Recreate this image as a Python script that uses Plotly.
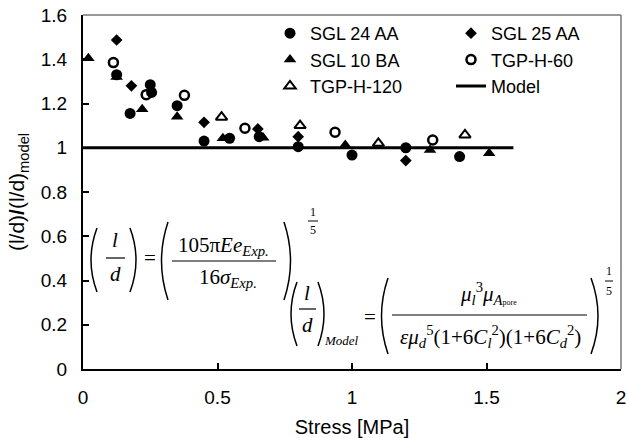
import plotly.graph_objects as go

# ---------------- data ----------------
sgl24_x = [0.125, 0.175, 0.25, 0.255, 0.35, 0.45, 0.545, 0.655, 0.80, 1.00, 1.20, 1.40]
sgl24_y = [1.33, 1.155, 1.285, 1.25, 1.19, 1.03, 1.043, 1.05, 1.005, 0.967, 1.00, 0.96]

sgl25_x = [0.125, 0.18, 0.45, 0.65, 0.80, 1.20]
sgl25_y = [1.487, 1.28, 1.115, 1.085, 1.05, 0.942]

sgl10_x = [0.02, 0.125, 0.22, 0.35, 0.52, 0.67, 0.975, 1.29, 1.51]
sgl10_y = [1.404, 1.32, 1.174, 1.14, 1.043, 1.045, 1.012, 0.99, 0.975]

tgp60_x = [0.113, 0.235, 0.377, 0.602, 0.937, 1.30]
tgp60_y = [1.385, 1.24, 1.237, 1.088, 1.07, 1.035]

tgp120_x = [0.515, 0.807, 1.098, 1.42]
tgp120_y = [1.138, 1.10, 1.02, 1.058]

model_x = [0, 1.6]
model_y = [1, 1]

x_title = "Stress [MPa]"
y_title = "(l/d)<b>/</b>(l/d)<sub>model</sub>"

# ---------------- layout helpers ----------------
W, H = 627, 438
L, R, T, B = 83, 621, 15, 369


def px(x):
    return (x - L) / (R - L)


def py(y):
    return (B - y) / (B - T)


SANS = "Liberation Sans, Arial, sans-serif"
SERIF = "Liberation Serif, Times New Roman, serif"

fig = go.Figure()
fig.add_trace(go.Scatter(x=sgl24_x, y=sgl24_y, mode="markers", name="SGL 24 AA",
                         marker=dict(symbol="circle", size=11, color="black")))
fig.add_trace(go.Scatter(x=sgl25_x, y=sgl25_y, mode="markers", name="SGL 25 AA",
                         marker=dict(symbol="diamond", size=9, color="black")))
fig.add_trace(go.Scatter(x=sgl10_x, y=sgl10_y, mode="markers", name="SGL 10 BA",
                         marker=dict(symbol="triangle-up", size=11, color="black")))
fig.add_trace(go.Scatter(x=tgp60_x, y=tgp60_y, mode="markers", name="TGP-H-60",
                         marker=dict(symbol="circle-open", size=9, color="black",
                                     line=dict(width=2.5, color="black"))))
fig.add_trace(go.Scatter(x=tgp120_x, y=tgp120_y, mode="markers", name="TGP-H-120",
                         marker=dict(symbol="triangle-up-open", size=10, color="black",
                                     line=dict(width=2, color="black"))))
fig.add_trace(go.Scatter(x=model_x, y=model_y, mode="lines", name="Model",
                         line=dict(color="black", width=3)))

shapes = []
# top and right frame (grey)
shapes.append(dict(type="line", xref="paper", yref="paper", x0=0, x1=1, y0=1, y1=1,
                   line=dict(color="#777777", width=1.5)))
shapes.append(dict(type="line", xref="paper", yref="paper", x0=1, x1=1, y0=0, y1=1,
                   line=dict(color="#777777", width=1.5)))


def bar(xa, xb, y, w=1.2):
    shapes.append(dict(type="line", xref="paper", yref="paper", x0=px(xa), x1=px(xb),
                       y0=py(y), y1=py(y), line=dict(color="black", width=w)))


def paren(x_end, x_mid, y1, y2, w=1.5):
    ym = (y1 + y2) / 2
    shapes.append(dict(type="path", xref="paper", yref="paper",
                       path=f"M {px(x_end)},{py(y1)} Q {px(x_mid)},{py(ym)} {px(x_end)},{py(y2)}",
                       line=dict(color="black", width=w)))


annotations = []


def txt(s, x, y, size=21, anchor="center"):
    annotations.append(dict(text=s, x=px(x), y=py(y), xref="paper", yref="paper",
                            showarrow=False, xanchor=anchor, yanchor="middle",
                            font=dict(family=SERIF, size=size, color="black")))


# ---- equation 1 ----
d1 = 8
paren(97, 85, 220 + d1, 284 + d1)
txt("<i>l</i>", 115, 232 + d1)
bar(106, 125, 250 + d1)
txt("<i>d</i>", 115, 266 + d1)
paren(130, 142, 220 + d1, 284 + d1)
txt("=", 150, 250 + d1)
paren(168, 155, 214 + d1, 292 + d1)
txt("105π<i>Ee</i><sub><i>Exp.</i></sub>", 223, 238 + d1)
bar(172, 276, 253 + d1)
txt("16<i>σ</i><sub><i>Exp.</i></sub>", 228, 270 + d1)
paren(284, 297, 214 + d1, 292 + d1)
txt("1", 313, 204 + d1, size=12)
bar(308, 318, 213 + d1, w=1)
txt("5", 313, 222 + d1, size=12)

# ---- equation 2 ----
paren(297, 285, 282, 346)
txt("<i>l</i>", 307, 293)
bar(299, 316, 309)
txt("<i>d</i>", 307, 325)
paren(318, 330, 282, 346)
txt("<i>Model</i>", 322, 340, size=13, anchor="left")
txt("=", 370, 317)
paren(388, 375, 278, 354)
txt("<i>μ</i><sub><i>l</i></sub><sup>3</sup><i>μ</i><sub><i>A</i><span style='font-size:8px'>pore</span></sub>",
    488, 293)
bar(392, 587, 315)
txt("<i>εμ</i><sub><i>d</i></sub><sup>5</sup>(1+6<i>C</i><sub><i>l</i></sub><sup>2</sup>)(1+6<i>C</i><sub><i>d</i></sub><sup>2</sup>)",
    490, 336)
paren(591, 605, 278, 354)
txt("1", 609, 271, size=12)
bar(605, 613, 281, w=1)
txt("5", 609, 291, size=12)

fig.update_layout(
    width=W, height=H,
    margin=dict(l=L, r=W - R, t=T, b=H - B, pad=0, autoexpand=False),
    paper_bgcolor="white", plot_bgcolor="white",
    font=dict(family=SANS, size=19, color="black"),
    showlegend=True,
    legend=dict(orientation="h", entrywidth=136, entrywidthmode="pixels",
                x=px(270), xanchor="left", y=1.0, yanchor="top",
                bgcolor="rgba(0,0,0,0)", font=dict(family=SANS, size=18),
                tracegroupgap=0),
    xaxis=dict(range=[0, 2], dtick=0.5, tick0=0, ticks="inside", ticklen=6, tickwidth=1.5,
               tickcolor="black", showgrid=False, zeroline=False, showline=True,
               linecolor="black", linewidth=2, ticklabelstandoff=10, automargin=False,
               tickfont=dict(size=19),
               title=dict(text=x_title, font=dict(size=20), standoff=14)),
    yaxis=dict(range=[0, 1.6], dtick=0.2, tick0=0, ticks="inside", ticklen=6, tickwidth=1.5,
               tickcolor="black", showgrid=False, zeroline=False, showline=True,
               linecolor="black", linewidth=2, ticklabelstandoff=10, automargin=False,
               tickfont=dict(size=19),
               title=dict(text=y_title, font=dict(size=21), standoff=10)),
    shapes=shapes,
    annotations=annotations,
)

fig.write_html("out.html")
